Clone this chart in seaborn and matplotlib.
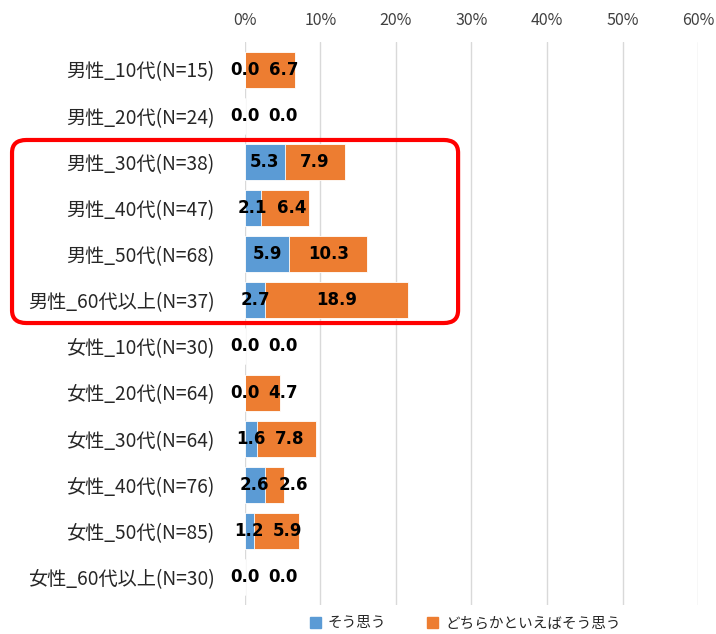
import seaborn as sns
import pandas as pd
import matplotlib.pyplot as plt
from matplotlib.patches import FancyBboxPatch, Patch

categories = ["男性_10代(N=15)", "男性_20代(N=24)", "男性_30代(N=38)", "男性_40代(N=47)",
              "男性_50代(N=68)", "男性_60代以上(N=37)", "女性_10代(N=30)", "女性_20代(N=64)",
              "女性_30代(N=64)", "女性_40代(N=76)", "女性_50代(N=85)", "女性_60代以上(N=30)"]
sou_omou = [0.0, 0.0, 5.3, 2.1, 5.9, 2.7, 0.0, 0.0, 1.6, 2.6, 1.2, 0.0]
dochiraka = [6.7, 0.0, 7.9, 6.4, 10.3, 18.9, 0.0, 4.7, 7.8, 2.6, 5.9, 0.0]
series_names = ["そう思う", "どちらかといえばそう思う"]
xticks = [0, 10, 20, 30, 40, 50, 60]

BLUE = "#5B9BD5"
ORANGE = "#ED7D31"

sns.set_style("white")
plt.rcParams['font.family'] = ['Noto Sans CJK JP', 'DejaVu Sans']

df = pd.DataFrame({"cat": categories, "blue": sou_omou, "orange": dochiraka})
df["total"] = df["blue"] + df["orange"]

fig = plt.figure(figsize=(7.16, 6.34), dpi=100)
ax = fig.add_axes([0.342, 0.046, 0.633, 0.888])

sns.barplot(data=df, y="cat", x="total", color=ORANGE, orient="h", width=0.78,
            saturation=1, ax=ax, edgecolor="white", linewidth=0.6)
sns.barplot(data=df, y="cat", x="blue", color=BLUE, orient="h", width=0.78,
            saturation=1, ax=ax, edgecolor="white", linewidth=0.6)

ax.set_xlim(0, 60)
ax.set_ylim(len(categories) - 0.4, -0.6)
ax.set_xticks(xticks)
ax.set_xticklabels([f"{t}%" for t in xticks], fontsize=11.5, color="#404040")
ax.xaxis.tick_top()
ax.tick_params(axis="x", length=0, pad=9)
ax.tick_params(axis="y", length=0, pad=22)
ax.set_yticklabels(categories, fontsize=13.8, color="#262626")
ax.set_xlabel("")
ax.set_ylabel("")
ax.grid(axis="x", color="#D9D9D9", linewidth=1)
ax.set_axisbelow(True)
for s in ax.spines.values():
    s.set_visible(False)

for i, (b, o) in enumerate(zip(sou_omou, dochiraka)):
    bx = b / 2
    ox = max(b + o / 2, bx + 5.1)
    ax.text(bx, i, f"{b:.1f}", ha="center", va="center", fontsize=12,
            fontweight="bold", color="black", family="DejaVu Sans", zorder=5)
    ax.text(ox, i, f"{o:.1f}", ha="center", va="center", fontsize=12,
            fontweight="bold", color="black", family="DejaVu Sans", zorder=5)

handles = [Patch(color=BLUE), Patch(color=ORANGE)]
fig.legend(handles, series_names, loc="lower center", bbox_to_anchor=(0.65, -0.015),
           ncol=2, frameon=False, fontsize=10.5, handlelength=0.75, handleheight=0.75,
           columnspacing=2.8, handletextpad=0.5)

box = FancyBboxPatch((0.0168, 0.4905), 0.623, 0.2887, boxstyle="round,pad=0,rounding_size=0.02",
                     transform=fig.transFigure, fill=False, edgecolor="#FF0000",
                     linewidth=3, zorder=10)
fig.patches.append(box)

fig.savefig("out.png", dpi=100)
